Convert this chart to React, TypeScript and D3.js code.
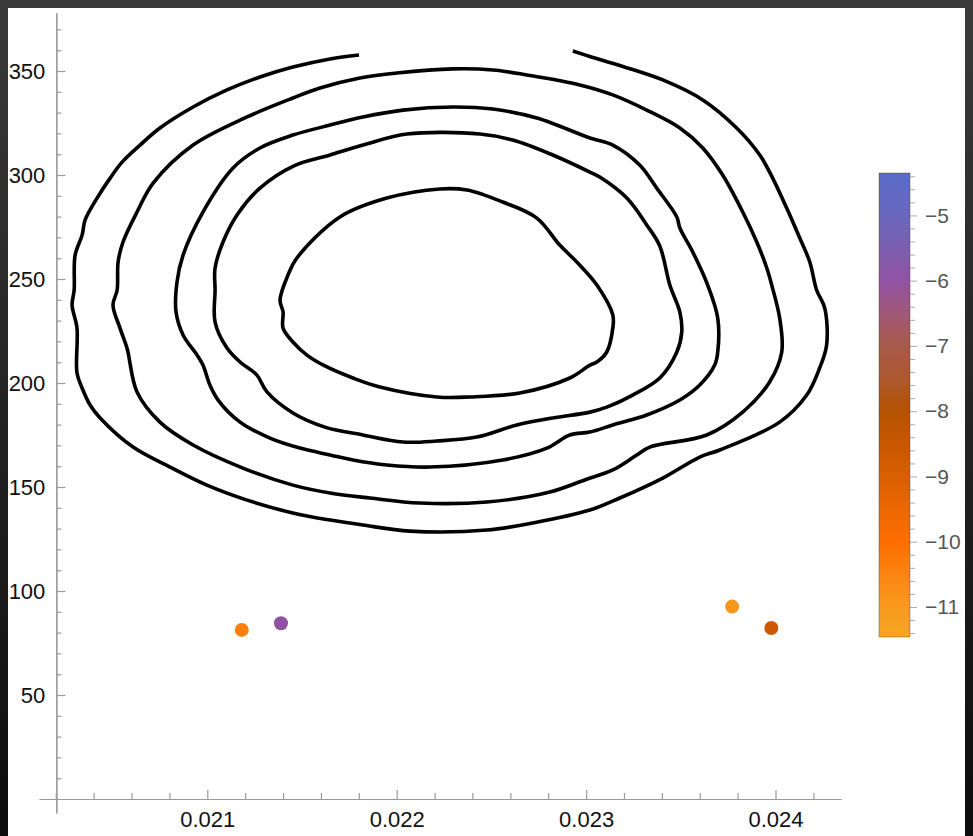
import * as d3 from "d3";
import { useRef, useEffect } from "react";

// tick values
const xTicks = [0.021, 0.022, 0.023, 0.024];
const yTicks = [50, 100, 150, 200, 250, 300, 350];
const colorTicks = [-11, -10, -9, -8, -7, -6, -5];

// contour lines: [x, y]
const contourA: [number, number][] = [
  [0.021801, 357.7], [0.021648, 355.8], [0.021452, 351.9], [0.021278, 347.1], [0.021104, 340.9],
  [0.020925, 332.7], [0.02075, 322.6], [0.020645, 314.4], [0.02055, 306.2], [0.020487, 298.5],
  [0.020418, 288.9], [0.020355, 278.4], [0.020339, 271.1], [0.020302, 261.5], [0.020297, 244.7],
  [0.020286, 237.5], [0.020312, 226.4], [0.020312, 204.8], [0.020339, 197.6], [0.020381, 189.4],
  [0.020434, 183.2], [0.020608, 169.2], [0.020803, 159.6], [0.020998, 150.9], [0.02121, 143.7],
  [0.021452, 137.5], [0.021648, 134.1], [0.021822, 131.7], [0.02207, 128.8], [0.022476, 129.3],
  [0.022719, 132.7], [0.02302, 138.9], [0.023178, 144.7], [0.023405, 154.3], [0.0236, 164.4],
  [0.023706, 167.8], [0.024022, 181.2], [0.024165, 194.2], [0.024233, 207.2], [0.02427, 218.3],
  [0.02426, 236.0], [0.024217, 244.7], [0.024181, 258.2], [0.024128, 269.7], [0.024059, 284.1],
  [0.023985, 298.5], [0.023917, 309.6], [0.023795, 322.6], [0.023616, 336.1], [0.023405, 345.7],
  [0.023194, 352.2], [0.02302, 357.0], [0.02293, 359.6],
];

const contourB: [number, number][] = [
  [0.022297, 351.0], [0.022001, 349.0], [0.021806, 346.6], [0.021595, 341.8], [0.021452, 337.0],
  [0.02121, 327.9], [0.020925, 314.4], [0.020714, 296.1], [0.020629, 282.2], [0.020555, 267.8],
  [0.020529, 258.2], [0.020524, 244.7], [0.020502, 237.5], [0.020539, 226.4], [0.020576, 216.8],
  [0.020629, 195.7], [0.02075, 181.2], [0.020925, 170.2], [0.021188, 159.1], [0.021452, 150.9],
  [0.021648, 147.1], [0.021859, 144.7], [0.022122, 142.3], [0.022476, 142.8], [0.022809, 147.6],
  [0.022993, 153.4], [0.023141, 158.2], [0.023268, 165.4], [0.023336, 169.2], [0.023637, 175.0],
  [0.023827, 186.0], [0.023969, 200.5], [0.024033, 214.9], [0.024022, 231.2], [0.02398, 247.1],
  [0.023954, 255.3], [0.023901, 267.8], [0.023827, 282.2], [0.023721, 300.0], [0.023616, 313.0],
  [0.023495, 322.6], [0.02332, 331.2], [0.023141, 338.5], [0.022967, 343.3], [0.022687, 348.1],
  [0.022508, 350.5],
];

const contourC: [number, number][] = [
  [0.022297, 332.7], [0.022033, 331.2], [0.021822, 327.9], [0.021648, 324.0], [0.021452, 319.2],
  [0.021278, 313.0], [0.021136, 303.4], [0.020977, 282.2], [0.020872, 261.5], [0.02084, 248.5],
  [0.020835, 234.1], [0.020872, 223.1], [0.020946, 213.4], [0.020977, 208.6], [0.021014, 199.0],
  [0.021057, 191.8], [0.021173, 181.2], [0.021331, 173.5], [0.021489, 168.7], [0.021648, 165.4],
  [0.021769, 163.0], [0.021948, 160.6], [0.022175, 159.6], [0.02256, 163.0], [0.022793, 168.7],
  [0.022914, 175.0], [0.02302, 176.4], [0.023141, 179.8], [0.02332, 184.6], [0.023495, 191.8],
  [0.0236, 199.0], [0.023679, 208.6], [0.023695, 214.9], [0.023695, 231.2], [0.023642, 247.1],
  [0.023563, 263.0], [0.023495, 274.5], [0.023479, 279.8], [0.023373, 293.7], [0.023283, 304.8],
  [0.023141, 314.4], [0.02302, 317.8], [0.02274, 327.4], [0.022508, 331.7],
];

const contourD: [number, number][] = [
  [0.022439, 319.7], [0.022054, 319.7], [0.021822, 314.4], [0.021648, 309.6], [0.021452, 304.2],
  [0.021278, 293.7], [0.021157, 280.8], [0.021083, 267.8], [0.021041, 255.3], [0.021041, 244.7],
  [0.021041, 229.3], [0.021104, 216.8], [0.021173, 210.1], [0.021262, 203.8], [0.021315, 195.7],
  [0.021452, 185.6], [0.021621, 178.8], [0.021822, 175.0], [0.022033, 171.6], [0.022212, 172.1],
  [0.022423, 174.0], [0.022634, 179.8], [0.022824, 183.2], [0.02302, 186.0], [0.023109, 188.4],
  [0.023246, 194.2], [0.023389, 202.4], [0.023479, 214.9], [0.023505, 224.5], [0.023495, 234.1],
  [0.023442, 247.1], [0.023389, 265.9], [0.02332, 276.0], [0.023215, 288.9], [0.023072, 299.0],
  [0.02302, 301.4], [0.022824, 309.6], [0.022613, 316.8],
];

const contourE: [number, number][] = [
  [0.022228, 293.3], [0.021948, 288.9], [0.0217, 279.8], [0.021473, 260.1],
  [0.021426, 251.9], [0.021384, 239.9], [0.0214, 234.1], [0.0214, 226.4], [0.021452, 219.7],
  [0.021526, 213.4], [0.021621, 208.2], [0.021769, 202.4], [0.021911, 198.1], [0.022212, 193.3],
  [0.022386, 193.3], [0.02265, 195.2], [0.022914, 202.4], [0.02302, 208.6], [0.023057, 210.1],
  [0.023109, 214.9], [0.023141, 226.4], [0.023141, 232.7], [0.023057, 247.1], [0.022956, 257.7],
  [0.022861, 266.3], [0.02274, 279.3], [0.02256, 287.0], [0.022371, 292.8],
];

// scatter points
const pointX = [0.021182, 0.021389, 0.023771, 0.023978];
const pointY = [81.3, 84.5, 92.5, 82.2];
const pointZ = [-10.4, -6.0, -10.9, -8.6];

// colour bar
const colorStops = [-11.46, -11, -10.5, -10, -9.5, -9, -8.5, -8, -7.5, -7, -6.5, -6, -5.5, -5, -4.35];
const colorHex = [
  "#f7a624", "#f89a1e", "#fb8412", "#fd6e00", "#ec6700", "#da5f00", "#c85700", "#b35200",
  "#ad5830", "#a85a4a", "#a05878", "#9152a2", "#7c5eb0", "#6a68be", "#5a6cc9",
];

const FONT = "'Liberation Sans', Arial, Helvetica, sans-serif";

export default function App() {
  const xAxisRef = useRef<SVGGElement>(null);
  const yAxisRef = useRef<SVGGElement>(null);
  const cAxisRef = useRef<SVGGElement>(null);

  const x = d3.scaleLinear().domain([0.021, 0.024]).range([207.3, 775.5]);
  const y = d3.scaleLinear().domain([0, 350]).range([799, 71]);

  const xMin = 0.020112, xMax = 0.024346, yMin = -6.7, yMax = 378;
  const xCross = 0.020203;

  const color = d3.scaleLinear<string>().domain(colorStops).range(colorHex);
  const cb = { x: 879, w: 31 };
  const cy = d3.scaleLinear().domain([-11.46, -4.35]).range([637, 173]);

  const openLine = d3
    .line<[number, number]>()
    .x((d) => x(d[0]))
    .y((d) => y(d[1]))
    .curve(d3.curveCatmullRom);
  const closedLine = d3
    .line<[number, number]>()
    .x((d) => x(d[0]))
    .y((d) => y(d[1]))
    .curve(d3.curveCatmullRomClosed);

  useEffect(() => {
    const xa = x.copy().domain([xMin, xMax]).range([x(xMin), x(xMax)]);
    const ya = y.copy().domain([yMin, yMax]).range([y(yMin), y(yMax)]);

    const xMinor = d3.range(101, 122).map((i) => i * 0.0002).filter((v) => Math.abs(v * 1000 - Math.round(v * 1000)) > 1e-6);
    const yMinor = d3.range(1, 38).map((i) => i * 10).filter((v) => v % 50 !== 0);
    const cMinor = d3.range(-57, -21).map((i) => i / 5).filter((v) => Math.abs(v - Math.round(v)) > 1e-6);

    const gx = d3.select(xAxisRef.current);
    gx.selectAll("*").remove();
    gx.append("g").call(d3.axisBottom(xa).tickValues(xMinor).tickFormat(() => "").tickSizeInner(-6).tickSizeOuter(0));
    gx.append("g").call(
      d3.axisBottom(xa).tickValues(xTicks).tickFormat(d3.format(".3f")).tickSizeInner(-9).tickSizeOuter(0).tickPadding(12)
    );

    const gy = d3.select(yAxisRef.current);
    gy.selectAll("*").remove();
    gy.append("g").call(d3.axisLeft(ya).tickValues(yMinor).tickFormat(() => "").tickSizeInner(-5).tickSizeOuter(0));
    gy.append("g").call(d3.axisLeft(ya).tickValues(yTicks).tickSizeInner(-9).tickSizeOuter(0).tickPadding(11));

    [gx, gy].forEach((g) => {
      g.selectAll(".domain").attr("stroke", "#9a9a9a").attr("stroke-width", 1.2);
      g.selectAll(".tick line").attr("stroke", "#9a9a9a").attr("stroke-width", 1.2);
      g.selectAll("text").attr("font-size", 22).attr("font-family", FONT).attr("fill", "#111");
    });

    const gc = d3.select(cAxisRef.current);
    gc.selectAll("*").remove();
    gc.append("g").call(d3.axisRight(cy).tickValues(cMinor).tickFormat(() => "").tickSizeInner(5).tickSizeOuter(0));
    gc.append("g").call(d3.axisRight(cy).tickValues(colorTicks).tickSizeInner(7).tickSizeOuter(0).tickPadding(8));
    gc.selectAll(".domain").remove();
    gc.selectAll(".tick line").attr("stroke", "#aaa").attr("stroke-width", 1);
    gc.selectAll("text").attr("font-size", 21).attr("font-family", FONT).attr("fill", "#555");
  }, []);

  const gradStops = colorStops
    .map((v, i) => ({ offset: (cy(v) - 173) / (637 - 173), c: colorHex[i] }))
    .sort((a, b) => a.offset - b.offset);

  return (
    <>
      <style>{`html,body{overflow:hidden;background:linear-gradient(#3a3a3a,#0c0c0c);}`}</style>
      <svg width={965} height={828} style={{ display: "block", background: "#fff" }}>
        <defs>
          <linearGradient id="cbar" x1="0" y1="0" x2="0" y2="1">
            {gradStops.map((s, i) => (
              <stop key={i} offset={s.offset} stopColor={s.c} />
            ))}
          </linearGradient>
        </defs>
        <g transform="translate(-8,-8)">
          <g ref={xAxisRef} transform={`translate(0,${y(0)})`} />
          <g ref={yAxisRef} transform={`translate(${x(xCross)},0)`} />

          {[contourB, contourC, contourD, contourE].map((c, i) => (
            <path key={i} d={closedLine(c) ?? ""} fill="none" stroke="#000" strokeWidth={3.6} strokeLinejoin="round" />
          ))}
          <path d={openLine(contourA) ?? ""} fill="none" stroke="#000" strokeWidth={3.6} strokeLinejoin="round" />

          {pointX.map((px, i) => (
            <circle key={i} cx={x(px)} cy={y(pointY[i])} r={7} fill={color(pointZ[i])} />
          ))}

          <rect x={cb.x} y={cy(-4.35)} width={cb.w} height={cy(-11.46) - cy(-4.35)} fill="url(#cbar)" stroke="rgba(60,40,20,0.35)" strokeWidth={1} />
          <g ref={cAxisRef} transform={`translate(${cb.x + cb.w},0)`} />
        </g>
      </svg>
    </>
  );
}
